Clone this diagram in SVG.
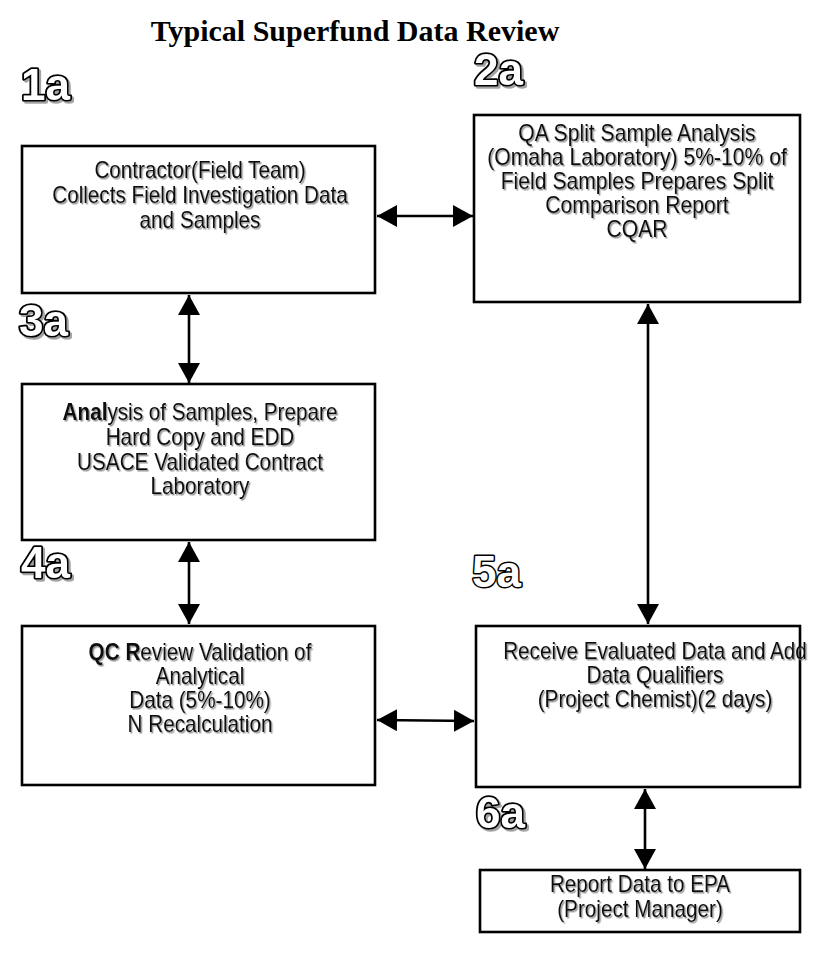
<svg xmlns="http://www.w3.org/2000/svg" width="834" height="963" viewBox="0 0 834 963">
<defs>
<style>
.box{fill:#fff;stroke:#000;stroke-width:2.6}
.t{font-family:"Liberation Sans",Arial,sans-serif;font-size:23px;fill:#111;text-anchor:middle}
.lbl{font-family:"Liberation Sans",Arial,sans-serif;font-weight:bold;font-size:44px;fill:#fff;stroke:#000;stroke-width:3.6;stroke-linejoin:round;paint-order:stroke}
.title{font-family:"Liberation Serif","Times New Roman",serif;font-weight:bold;font-size:30px;fill:#000;text-anchor:middle}
.c{fill:none;stroke:#000;stroke-width:2.6;marker-start:url(#ah);marker-end:url(#ah)}
</style>
<marker id="ah" markerUnits="userSpaceOnUse" markerWidth="20" markerHeight="22" refX="20" refY="11" orient="auto-start-reverse" viewBox="0 0 20 22">
<path d="M0,0 L20,11 L0,22 z" fill="#000"/>
</marker>
<filter id="sh" x="-10%" y="-10%" width="120%" height="140%">
<feDropShadow dx="1.5" dy="1.5" stdDeviation="0.7" flood-color="#777" flood-opacity="0.8"/>
</filter>
<filter id="lsh" x="-10%" y="-10%" width="130%" height="130%">
<feDropShadow dx="2" dy="2" stdDeviation="0.6" flood-color="#999" flood-opacity="0.9"/>
</filter>
</defs>
<rect width="834" height="963" fill="#fff"/>
<text class="title" x="355" y="41">Typical Superfund Data Review</text>

<g id="labels">
<text class="lbl" x="21" y="100" filter="url(#lsh)">1a</text>
<text class="lbl" x="474" y="85" filter="url(#lsh)">2a</text>
<text class="lbl" x="19" y="336" filter="url(#lsh)">3a</text>
<text class="lbl" x="21" y="578" filter="url(#lsh)">4a</text>
<text class="lbl" x="472" y="587" style="stroke-width:3">5a</text>
<text class="lbl" x="476" y="828" filter="url(#lsh)">6a</text>
</g>

<g id="connectors">
<line class="c" x1="377" y1="216" x2="473" y2="216"/>
<line class="c" x1="189" y1="295" x2="189" y2="383"/>
<line class="c" x1="189" y1="542" x2="189" y2="624"/>
<line class="c" x1="648" y1="304" x2="648" y2="624"/>
<line class="c" x1="377" y1="720" x2="474" y2="721"/>
<line class="c" x1="645" y1="789" x2="645" y2="869"/>
</g>

<g id="n1">
<rect class="box" x="22" y="146" width="353" height="147"/>
<g transform="translate(200,0) scale(0.9,1)" filter="url(#sh)">
<text class="t" x="0" y="178">Contractor(Field Team)</text>
<text class="t" x="0" y="203">Collects Field Investigation Data</text>
<text class="t" x="0" y="228">and Samples</text>
</g>
</g>

<g id="n2">
<rect class="box" x="474" y="115" width="326" height="187"/>
<g transform="translate(637,0) scale(0.92,1)" filter="url(#sh)">
<text class="t" x="0" y="141">QA Split Sample Analysis</text>
<text class="t" x="0" y="165">(Omaha Laboratory) 5%-10% of</text>
<text class="t" x="0" y="189">Field Samples Prepares Split</text>
<text class="t" x="0" y="213">Comparison Report</text>
<text class="t" x="0" y="237">CQAR</text>
</g>
</g>

<g id="n3">
<rect class="box" x="22" y="384" width="353" height="156"/>
<g transform="translate(200,0) scale(0.9,1)" filter="url(#sh)">
<text class="t" x="0" y="420"><tspan font-weight="bold">Anal</tspan>ysis of Samples, Prepare</text>
<text class="t" x="0" y="445">Hard Copy and EDD</text>
<text class="t" x="0" y="470">USACE Validated Contract</text>
<text class="t" x="0" y="494">Laboratory</text>
</g>
</g>

<g id="n4">
<rect class="box" x="22" y="626" width="353" height="159"/>
<g transform="translate(200,0) scale(0.9,1)" filter="url(#sh)">
<text class="t" x="0" y="660"><tspan font-weight="bold">QC R</tspan>eview Validation of</text>
<text class="t" x="0" y="684">Analytical</text>
<text class="t" x="0" y="708">Data (5%-10%)</text>
<text class="t" x="0" y="732">N Recalculation</text>
</g>
</g>

<g id="n5">
<rect class="box" x="476" y="626" width="324" height="161"/>
<g transform="translate(655,0) scale(0.9,1)" filter="url(#sh)">
<text class="t" x="0" y="659">Receive Evaluated Data and Add</text>
<text class="t" x="0" y="683">Data Qualifiers</text>
<text class="t" x="0" y="707">(Project Chemist)(2 days)</text>
</g>
</g>

<g id="n6">
<rect class="box" x="480" y="870" width="320" height="62"/>
<g transform="translate(640,0) scale(0.9,1)" filter="url(#sh)">
<text class="t" x="0" y="892">Report Data to EPA</text>
<text class="t" x="0" y="917">(Project Manager)</text>
</g>
</g>
</svg>
